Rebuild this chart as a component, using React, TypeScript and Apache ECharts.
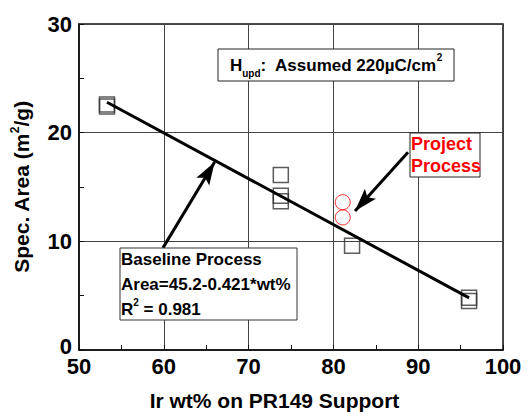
import React, { useEffect, useRef } from "react";
import * as echarts from "echarts";

const xTicks = [50, 60, 70, 80, 90, 100];
const yTicks = [0, 10, 20, 30];
const baselineX = [53.3, 53.3, 73.8, 73.8, 73.8, 82.2, 96.0, 96.0];
const baselineY = [22.6, 22.4, 16.1, 14.2, 13.7, 9.6, 4.8, 4.5];
const projectX = [81.1, 81.1];
const projectY = [13.6, 12.2];
const fitX = [53.3, 96.0];
const fitY = [22.8, 4.8];
const baselineArrow = [[59.9, 9.4], [66.0, 17.3]];
const projectArrow = [[88.8, 18.2], [82.55, 12.8]];

const FONT = "'Liberation Sans', Arial, Helvetica, sans-serif";
const ARROW_HEAD = "path://M-20 -20 M20 20 M0 0 L6.5 20 L0 16 L-6.5 20 Z";

export default function App() {
  const ref = useRef<HTMLDivElement>(null);
  useEffect(() => {
    if (!ref.current) return;
    const chart = echarts.init(ref.current, null, { renderer: "svg" });
    const axisText = { fontFamily: FONT, fontWeight: "bold", fontSize: 22, color: "#000" };
    chart.setOption({
      animation: false,
      backgroundColor: "#fff",
      grid: {
        left: 79, right: 27, top: 24, bottom: 65,
        show: true, borderColor: "#111", borderWidth: 1.5, backgroundColor: "transparent",
      },
      xAxis: {
        type: "value", min: xTicks[0], max: xTicks[xTicks.length - 1], interval: 10,
        axisLine: { show: true, lineStyle: { color: "#111", width: 1.5 } },
        axisTick: { show: true, inside: true, length: 5, lineStyle: { color: "#111" } },
        minorTick: { show: true, splitNumber: 2, length: 5, lineStyle: { color: "#111" } },
        splitLine: { show: true, lineStyle: { color: "#444", width: 1 } },
        axisLabel: { ...axisText, margin: 6, lineHeight: 20 },
        name: "Ir wt% on PR149 Support",
        nameLocation: "middle", nameGap: 40,
        nameTextStyle: { fontFamily: FONT, fontWeight: "bold", fontSize: 21, color: "#000", padding: [0, 33, 0, 0] },
      },
      yAxis: {
        type: "value", min: yTicks[0], max: yTicks[yTicks.length - 1], interval: 10,
        axisLine: { show: true, lineStyle: { color: "#111", width: 1.5 } },
        axisTick: { show: true, inside: true, length: 5, lineStyle: { color: "#111" } },
        minorTick: { show: true, splitNumber: 2, length: 5, lineStyle: { color: "#111" } },
        splitLine: { show: true, lineStyle: { color: "#444", width: 1 } },
        axisLabel: {
          ...axisText, margin: 7, lineHeight: 20,
          formatter: (v: number) => (v === 0 ? "{z|0}" : String(v)),
          rich: { z: { fontFamily: FONT, fontWeight: "bold", fontSize: 22, color: "#000", lineHeight: 16, padding: [0, 0, 8, 0] } },
        },
        name: "{a|Spec. Area (m}{s|2}{a|/g)}",
        nameLocation: "middle", nameGap: 46,
        nameTextStyle: {
          rich: {
            a: { fontFamily: FONT, fontWeight: "bold", fontSize: 21, color: "#000", lineHeight: 24 },
            s: { fontFamily: FONT, fontWeight: "bold", fontSize: 12, color: "#000", verticalAlign: "top", lineHeight: 24 },
          },
        },
      },
      series: [
        {
          type: "line", data: fitX.map((x, i) => [x, fitY[i]]),
          symbol: "none", lineStyle: { color: "#000", width: 3 }, z: 3,
        },
        {
          type: "scatter", data: baselineX.map((x, i) => [x, baselineY[i]]),
          symbol: "rect", symbolSize: 15,
          itemStyle: { color: "rgba(0,0,0,0)", borderColor: "#333", borderWidth: 1.5 }, z: 2,
        },
        {
          type: "scatter", data: projectX.map((x, i) => [x, projectY[i]]),
          symbol: "circle", symbolSize: 15,
          itemStyle: { color: "rgba(0,0,0,0)", borderColor: "#f00", borderWidth: 1 }, z: 2,
        },
        {
          type: "lines", coordinateSystem: "cartesian2d",
          data: [{ coords: baselineArrow }, { coords: projectArrow }],
          symbol: ["none", ARROW_HEAD], symbolSize: 46,
          itemStyle: { color: "#000" },
          lineStyle: { color: "#000", width: 3, opacity: 1 }, z: 4,
        },
      ],
      graphic: [
        { type: "rect", shape: { x: 218, y: 49, width: 236, height: 32 }, style: { fill: "#fff", stroke: "#222", lineWidth: 1 }, z: 10 },
        {
          type: "text", x: 230, y: 52, z: 11,
          style: {
            text: "{a|H}{b|upd}{a|:  Assumed 220µC/cm}{s|2}",
            rich: {
              a: { fontFamily: FONT, fontWeight: "bold", fontSize: 17, fill: "#000", lineHeight: 26, verticalAlign: "middle" },
              b: { fontFamily: FONT, fontWeight: "bold", fontSize: 10, fill: "#000", lineHeight: 26, verticalAlign: "bottom" },
              s: { fontFamily: FONT, fontWeight: "bold", fontSize: 10, fill: "#000", lineHeight: 26, verticalAlign: "top" },
            },
          },
        },
        { type: "rect", shape: { x: 410, y: 133, width: 70, height: 44 }, style: { fill: "#fff", stroke: "#222", lineWidth: 1 }, z: 10 },
        {
          type: "text", x: 411, y: 133, z: 11,
          style: { text: "Project\nProcess", fontFamily: FONT, fontWeight: "bold", fontSize: 18, fill: "#f00", lineHeight: 22 },
        },
        { type: "rect", shape: { x: 120, y: 248, width: 177, height: 72 }, style: { fill: "#fff", stroke: "#333", lineWidth: 1 }, z: 10 },
        {
          type: "text", x: 121, y: 247, z: 11,
          style: {
            text: "{a|Baseline Process}\n{a|Area=45.2-0.421*wt%}\n{a|R}{s|2}{a| = 0.981}",
            rich: {
              a: { fontFamily: FONT, fontWeight: "bold", fontSize: 17, fill: "#000", lineHeight: 25 },
              s: { fontFamily: FONT, fontWeight: "bold", fontSize: 10, fill: "#000", lineHeight: 25, verticalAlign: "top" },
            },
          },
        },
      ],
    });
    return () => chart.dispose();
  }, []);
  return <div ref={ref} style={{ width: 530, height: 416, position: "absolute", left: 0, top: 0 }} />;
}
